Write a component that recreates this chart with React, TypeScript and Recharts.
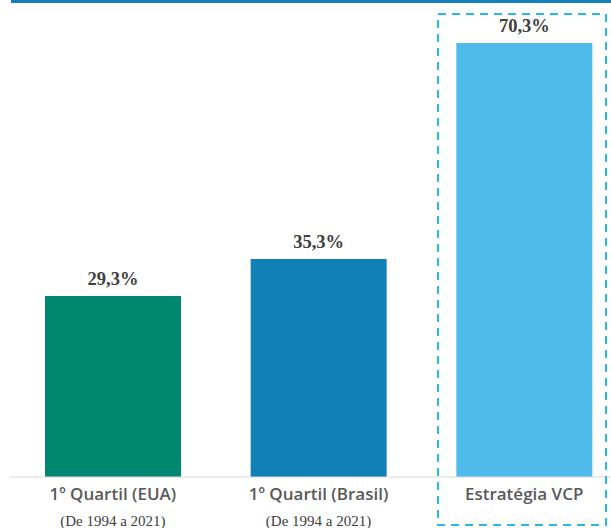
import React from "react";
import { BarChart, Bar, XAxis, YAxis, Cell, LabelList } from "recharts";

const categories = ["1º Quartil (EUA)", "1º Quartil (Brasil)", "Estratégia VCP"];
const subtitles = ["(De 1994 a 2021)", "(De 1994 a 2021)", ""];
const values = [29.3, 35.3, 70.3];
const colors = ["#008770", "#1180b5", "#4fbbeb"];

const data = categories.map((name, i) => ({ name, sub: subtitles[i], value: values[i] }));

const fmt = (v: number) => v.toFixed(1).replace(".", ",") + "%";

const Tick = (props: any) => {
  const { x, y, payload, index } = props;
  const sub = subtitles[index ?? payload.index] ?? "";
  return (
    <g transform={`translate(${x},${y})`}>
      <text x={0} y={15} textAnchor="middle" fill="#595959" fontFamily="'Open Sans', sans-serif" fontWeight={600} fontSize={17}>
        {payload.value}
      </text>
      {sub ? (
        <text x={0} y={41} textAnchor="middle" fill="#404040" fontFamily="'Liberation Serif', serif" fontSize={15}>
          {sub}
        </text>
      ) : null}
    </g>
  );
};

export default function App() {
  return (
    <div style={{ position: "absolute", left: 0, top: 0, width: 611, height: 528, overflow: "hidden", background: "#fff" }}>
      <div style={{ position: "absolute", left: 11, top: 0, width: 600, height: 3, background: "#1580b8" }} />
      <BarChart width={640} height={528} data={data} margin={{ top: 43, right: 13, left: 10, bottom: 0 }}>
        <YAxis hide domain={[0, 70.3]} />
        <XAxis
          dataKey="name"
          height={51}
          axisLine={{ stroke: "#d9d9d9", strokeWidth: 1 }}
          tickLine={false}
          interval={0}
          tick={<Tick />}
        />
        <Bar dataKey="value" barSize={136} isAnimationActive={false}>
          {data.map((d, i) => (
            <Cell key={d.name} fill={colors[i]} />
          ))}
          <LabelList
            dataKey="value"
            position="top"
            offset={11}
            formatter={(v: any) => fmt(Number(v))}
            fill="#404040"
            fontFamily="'Liberation Serif', serif"
            fontWeight={700}
            fontSize={18.5}
          />
        </Bar>
      </BarChart>
      <svg style={{ position: "absolute", left: 0, top: 0 }} width={611} height={528}>
        <rect x={438} y={14} width={168} height={511} fill="none" stroke="#29b6e8" strokeWidth={2} strokeDasharray="8 6" />
      </svg>
    </div>
  );
}
